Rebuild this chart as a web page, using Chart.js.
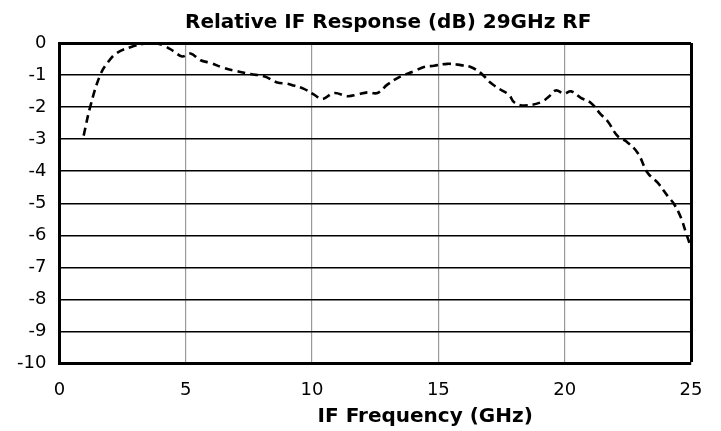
<!DOCTYPE html>
<html>
<head>
<meta charset="utf-8">
<script src="https://cdn.jsdelivr.net/npm/chart.js@4"></script>
<style>
html,body{margin:0;padding:0;background:#fff;}
#wrap{width:721px;height:431px;}
</style>
</head>
<body>
<div id="wrap"><canvas id="c" width="721" height="431"></canvas></div>
<script>
const chartTitle = "Relative IF Response (dB) 29GHz RF";
const xAxisTitle = "IF Frequency (GHz)";
const freqGHz = [0.96,1.23,1.62,1.95,2.28,2.81,3.34,3.74,4.13,4.53,4.86,5.19,5.59,5.98,6.51,7.04,7.57,8.1,8.62,9.02,9.28,9.68,10.08,10.41,10.87,11.4,11.79,12.19,12.59,12.98,13.51,14.04,14.43,14.83,15.36,15.89,16.28,16.68,17.08,17.47,17.8,18.0,18.4,19.06,19.39,19.65,19.98,20.25,20.64,21.04,21.43,21.7,22.1,22.42,22.89,23.28,23.68,24.08,24.34,24.6,24.8,25.0];
const responseDb = [-2.89,-1.96,-0.99,-0.57,-0.31,-0.13,-0.02,0,-0.08,-0.26,-0.42,-0.33,-0.54,-0.62,-0.78,-0.88,-0.97,-1.04,-1.23,-1.27,-1.33,-1.43,-1.61,-1.75,-1.56,-1.66,-1.61,-1.54,-1.56,-1.3,-1.04,-0.88,-0.75,-0.71,-0.65,-0.69,-0.75,-0.94,-1.25,-1.46,-1.62,-1.85,-1.95,-1.85,-1.66,-1.48,-1.58,-1.51,-1.71,-1.87,-2.23,-2.44,-2.91,-3.06,-3.43,-4.05,-4.36,-4.78,-5.04,-5.45,-5.92,-6.39];
const xTicks = [0,5,10,15,20,25];
const yTicks = [-10,-9,-8,-7,-6,-5,-4,-3,-2,-1,0];

const textPlugin = {
  id: 'texts',
  afterDraw(chart) {
    const ctx = chart.ctx, a = chart.chartArea;
    const cx = (a.left + a.right) / 2;
    ctx.save();
    ctx.fillStyle = '#000';
    ctx.textAlign = 'center';
    ctx.textBaseline = 'alphabetic';
    ctx.font = 'bold 20px "DejaVu Sans"';
    ctx.fillText(chartTitle, cx + 13, 28);
    ctx.fillText(xAxisTitle, cx + 50, 421.5);
    ctx.restore();
  }
};

new Chart(document.getElementById('c'), {
  type: 'line',
  data: {
    datasets: [{
      data: freqGHz.map((x, i) => ({x: x, y: responseDb[i]})),
      borderColor: '#000',
      borderWidth: 2.6,
      borderDash: [8, 5],
      pointRadius: 0,
      tension: 0.4,
      fill: false
    }]
  },
  options: {
    responsive: false,
    animation: false,
    devicePixelRatio: 1,
    layout: {padding: {left: 4, right: 30, top: 43, bottom: 14}},
    plugins: {legend: {display: false}, tooltip: {enabled: false}},
    scales: {
      x: {
        type: 'linear', min: 0, max: 25,
        afterBuildTicks: s => { s.ticks = xTicks.map(v => ({value: v})); },
        ticks: {color: '#000', font: {family: 'DejaVu Sans', size: 18}, padding: 16, maxRotation: 0},
        grid: {
          drawTicks: false,
          color: c => (c.tick && (c.tick.value === 25 || c.tick.value === 0)) ? '#000' : '#999999',
          lineWidth: c => (c.tick && c.tick.value === 25) ? 3 : 1.2
        },
        border: {display: true, color: '#000', width: 3}
      },
      y: {
        type: 'linear', min: -10, max: 0,
        afterBuildTicks: s => { s.ticks = yTicks.map(v => ({value: v})); },
        ticks: {color: '#000', font: {family: 'DejaVu Sans', size: 18}, padding: 13},
        grid: {
          drawTicks: false,
          color: '#000',
          lineWidth: c => (c.tick && c.tick.value === 0) ? 3 : 1.4
        },
        border: {display: true, color: '#000', width: 3}
      }
    }
  },
  plugins: [textPlugin]
});
</script>
</body>
</html>
